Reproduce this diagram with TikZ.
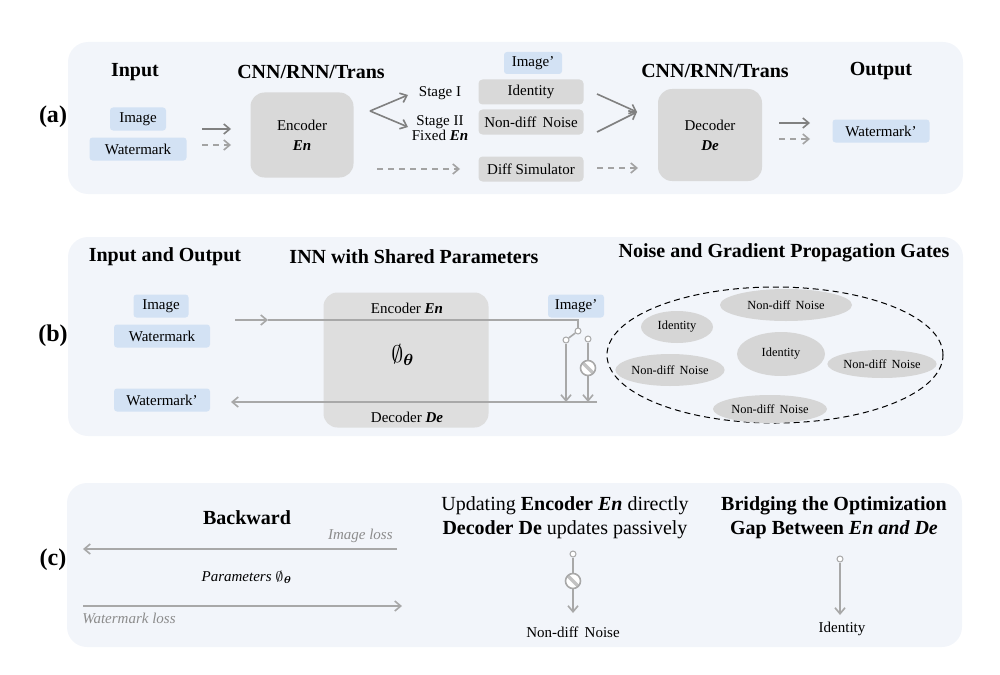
\documentclass[tikz,border=0pt]{standalone}
\usepackage{amsmath}
\usepackage{fontspec}
\setmainfont{Liberation Serif}
\usetikzlibrary{arrows.meta, shapes.geometric}

\definecolor{panelbg}{HTML}{F2F5FA}
\definecolor{boxblue}{HTML}{D3E2F4}
\definecolor{boxgray}{HTML}{D9D9D9}
\definecolor{inngray}{HTML}{DEDEDE}
\definecolor{blobgray}{HTML}{D6D6D6}
\definecolor{arrgray}{HTML}{808080}
\definecolor{arrlight}{HTML}{A3A3A3}
\definecolor{wiregray}{HTML}{A8A8A8}
\definecolor{losstext}{HTML}{8C8C8C}

\newcommand{\bi}[1]{\textbf{\textit{#1}}}
\newcommand{\phitheta}{$\emptyset_{\boldsymbol{\theta}}$}

\begin{document}
\begin{tikzpicture}[x=0.5pt, y=-0.5pt,
    head/.style={font=\fontsize{10}{12}\selectfont\bfseries},
    txt/.style={font=\fontsize{7.5}{9}\selectfont},
    small/.style={font=\fontsize{6.2}{7}\selectfont},
    tag/.style={font=\fontsize{12}{14}\selectfont\bfseries},
    panel/.style={fill=panelbg, rounded corners=10pt},
    bluebox/.style={txt, fill=boxblue, rounded corners=1.5pt, minimum height=11.5pt, inner sep=0pt},
    graybox/.style={txt, fill=boxgray, rounded corners=2pt, minimum width=52.5pt, minimum height=12.5pt, inner sep=0pt},
    bigbox/.style={fill=boxgray, rounded corners=7pt, inner sep=0pt},
    blob/.style={small, ellipse, fill=blobgray, inner sep=0pt},
    arr/.style={draw=arrgray, line width=0.8pt, -{Straight Barb[length=3pt, width=5pt]}},
    darr/.style={arr, draw=arrlight, dash pattern=on 3pt off 2.5pt},
    wire/.style={draw=wiregray, line width=0.8pt},
    warr/.style={wire, -{Straight Barb[length=3pt, width=5pt]}},
    pin/.style={circle, draw=wiregray, fill=white, line width=0.5pt, inner sep=0pt, minimum size=3pt},
    gate/.style={circle, draw=wiregray, fill=white, line width=0.8pt, inner sep=0pt, minimum size=7.5pt,
        path picture={\draw[wiregray!70, line width=1.6pt] (path picture bounding box.north west) -- (path picture bounding box.south east);}},
]
    \useasboundingbox (0,0) rectangle (1000,674);

    % 背景パネル
    \fill[panel] (68,42) rectangle (963,194);
    \fill[panel] (68,237) rectangle (963,436);
    \fill[panel] (67,483) rectangle (962,647);
    \node[tag] (tagA) at (53,117) {(a)};
    \node[tag] (tagB) at (53,336) {(b)};
    \node[tag] (tagC) at (53,560) {(c)};

    % (a) ノードを描画
    \node[head] (hIn) at (135,72) {Input};
    \node[head] (hEnc) at (311,72) {CNN/RNN/Trans};
    \node[head] (hDec) at (715,71) {CNN/RNN/Trans};
    \node[head] (hOut) at (881,71) {Output};
    \node[bluebox, minimum width=28pt] (imgA) at (138,119) {Image};
    \node[bluebox, minimum width=48.5pt] (wmA) at (138,149) {Watermark};
    \node[bigbox, minimum width=51.5pt, minimum height=42.5pt] (enc) at (302,135) {};
    \node[txt, align=center, font=\fontsize{7.5}{10}\selectfont] at (enc) {Encoder\\\bi{En}};
    \node[txt, align=center] (st1) at (440,93) {Stage I};
    \node[txt, align=center, font=\fontsize{7.5}{6}\selectfont] (st2) at (440,128) {Stage II\\Fixed \bi{En}};
    \node[bluebox, minimum width=29pt, minimum height=11pt] (imgpA) at (533,63) {Image'};
    \node[graybox] (idA) at (531,92) {Identity};
    \node[graybox] (ndA) at (531,122) {Non-diff\, Noise};
    \node[graybox] (dsA) at (531,169) {Diff Simulator};
    \node[bigbox, minimum width=52pt, minimum height=46pt] (dec) at (710,135) {};
    \node[txt, align=center, font=\fontsize{7.5}{10}\selectfont] at (dec) {Decoder\\\bi{De}};
    \node[bluebox, minimum width=48.5pt] (wmpA) at (881,131) {Watermark'};

    % (a) 矢印の端点
    \coordinate (a1) at (202,129); \coordinate (a2) at (231,129);
    \coordinate (a3) at (202,145); \coordinate (a4) at (231,145);
    \coordinate (fork) at (370,111);
    \coordinate (s1) at (408,95); \coordinate (s2) at (408,127);
    \coordinate (a5) at (377,169); \coordinate (a6) at (460,169);
    \coordinate (j1) at (597,94); \coordinate (j2) at (597,132);
    \coordinate (join) at (637,112);
    \coordinate (a7) at (597,168); \coordinate (a8) at (638,168);
    \coordinate (a9) at (779,123); \coordinate (a10) at (810,123);
    \coordinate (a11) at (779,139); \coordinate (a12) at (810,139);

    % (a) エッジを描画
    \draw[arr] (a1) -- (a2);
    \draw[darr] (a3) -- (a4);
    \draw[arr] (fork) -- (s1);
    \draw[arr] (fork) -- (s2);
    \draw[darr] (a5) -- (a6);
    \draw[arr] (j1) -- (join);
    \draw[arr] (j2) -- (join);
    \draw[darr] (a7) -- (a8);
    \draw[arr] (a9) -- (a10);
    \draw[darr] (a11) -- (a12);

    % (b) ノードを描画
    \node[head] (hIO) at (165,257) {Input and Output};
    \node[head] (hINN) at (414,257) {INN with Shared Parameters};
    \node[head] (hGate) at (784,253) {Noise and Gradient Propagation Gates};
    \node[bluebox, minimum width=27.5pt] (imgB) at (161,306) {Image};
    \node[bluebox, minimum width=48pt] (wmB) at (162,336) {Watermark};
    \node[bluebox, minimum width=48pt] (wmpB) at (162,400) {Watermark'};
    \node[bigbox, fill=inngray, minimum width=82.5pt, minimum height=67.5pt] (inn) at (406,360) {};
    \node[txt] (encB) at (407,308) {Encoder \bi{En}};
    \node[font=\fontsize{12}{14}\selectfont] (phiB) at (403,355) {\phitheta};
    \node[txt] (decB) at (407,417) {Decoder \bi{De}};
    \node[bluebox, minimum width=28pt] (imgpB) at (576,306) {Image'};

    \node[draw, densely dashed, line width=0.5pt, ellipse, minimum width=168pt, minimum height=68pt] (pool) at (775,355) {};
    \node[blob, minimum width=66pt, minimum height=16pt] (nd1) at (786,305) {Non-diff\, Noise};
    \node[blob, minimum width=36pt, minimum height=16pt] (id1) at (677,327) {Identity};
    \node[blob, minimum width=44pt, minimum height=22pt] (id2) at (781,354) {Identity};
    \node[blob, minimum width=53pt, minimum height=16pt] (nd2) at (670,370) {Non-diff\, Noise};
    \node[blob, minimum width=53pt, minimum height=14pt] (nd3) at (882,364) {Non-diff\, Noise};
    \node[blob, minimum width=57pt, minimum height=14pt] (nd4) at (770,409) {Non-diff\, Noise};

    % (b) 配線
    \coordinate (inL) at (235,320);
    \coordinate (inM) at (268,320);
    \coordinate (inR) at (578,320);
    \coordinate (outR) at (597,402);
    \coordinate (outL) at (231,402);
    \coordinate (dropL) at (566,402);
    \coordinate (dropR) at (588,402);
    \draw[warr] (inL) -- (inM);
    \draw[wire] (inM) -- (inR) -- (578,330);
    \draw[warr] (outR) -- (outL);
    \node[pin] (swA) at (578,331) {};
    \node[pin] (swB) at (566,340) {};
    \node[pin] (swC) at (588,339) {};
    \node[gate] (gateB) at (588,368) {};
    \draw[wire] (swA) -- (swB);
    \draw[warr] (swB) -- (dropL);
    \draw[wire] (swC) -- (gateB);
    \draw[warr] (gateB) -- (dropR);

    % (c) ノードを描画
    \node[head] (hBack) at (247,518) {Backward};
    \node[txt, font=\fontsize{7.5}{9}\selectfont\itshape, text=losstext, anchor=east, inner sep=0pt] (imloss) at (393,536) {Image loss};
    \node[txt, font=\fontsize{7.5}{9}\selectfont\itshape] (params) at (247,577) {Parameters \phitheta};
    \node[txt, font=\fontsize{7.5}{9}\selectfont\itshape, text=losstext, anchor=west, inner sep=0pt] (wmloss) at (82,618) {Watermark loss};
    \node[align=center, font=\fontsize{10}{12}\selectfont] (hUpd) at (565,518) {Updating \textbf{Encoder \textit{En}} directly\\\textbf{Decoder De} updates passively};
    \node[head, align=center] (hBridge) at (834,518) {Bridging the Optimization\\Gap Between \textit{En and De}};
    \node[pin] (pinN) at (573,554) {};
    \node[gate] (gateC) at (573,581) {};
    \coordinate (tipN) at (573,613);
    \node[txt] (ndC) at (573,632) {Non-diff\, Noise};
    \node[pin] (pinI) at (840,559) {};
    \coordinate (tipI) at (840,615);
    \node[txt] (idC) at (842,629) {Identity};

    % (c) エッジを描画
    \coordinate (b1) at (397,549); \coordinate (b2) at (83,549);
    \coordinate (b3) at (83,606); \coordinate (b4) at (402,606);
    \draw[warr] (b1) -- (b2);
    \draw[warr] (b3) -- (b4);
    \draw[wire] (pinN) -- (gateC);
    \draw[warr] (gateC) -- (tipN);
    \draw[warr] (pinI) -- (tipI);
\end{tikzpicture}
\end{document}
